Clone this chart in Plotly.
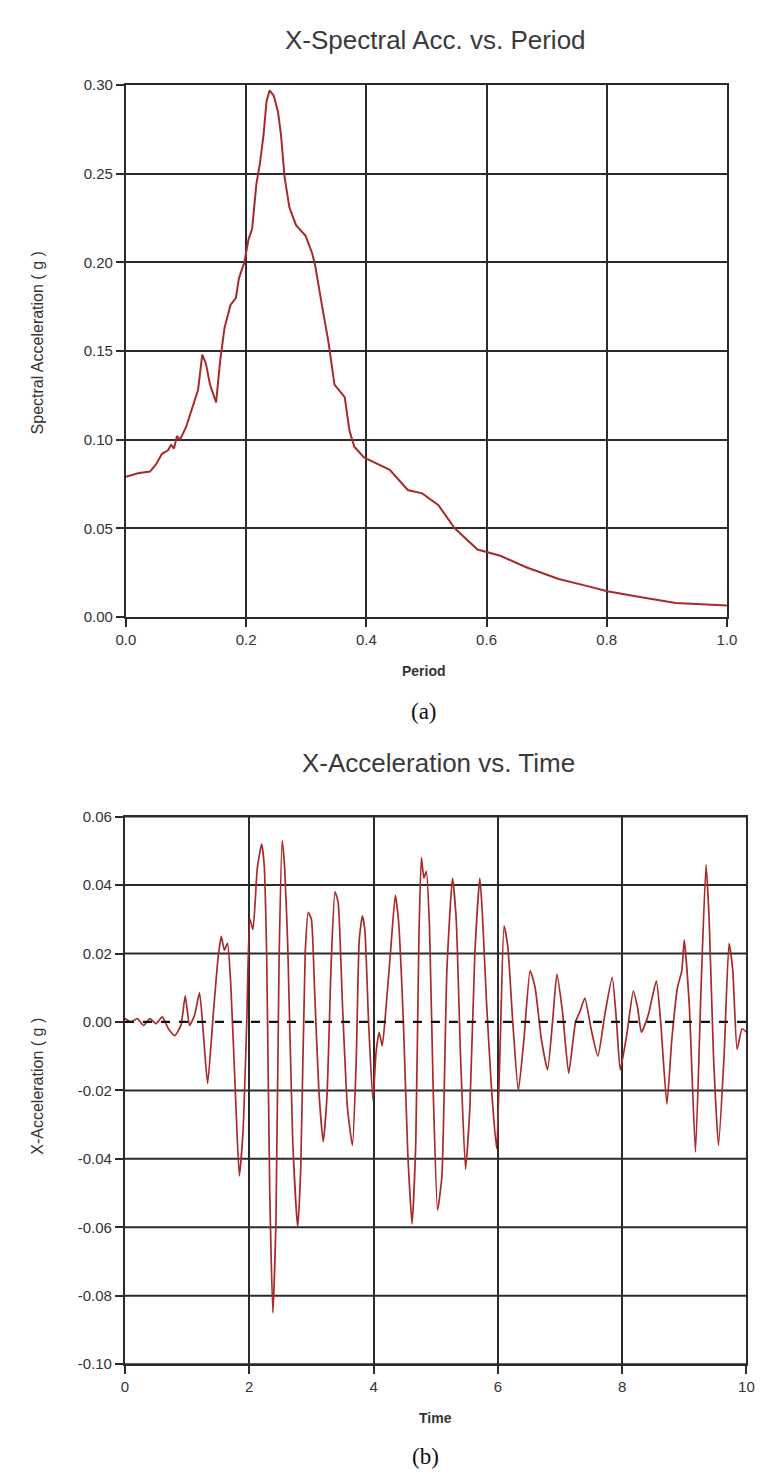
import plotly.graph_objects as go

# ---- (a) response spectrum: spectral acceleration (g) vs period (s)
period = [0.0, 0.02, 0.04, 0.05, 0.06, 0.07, 0.075, 0.08, 0.085, 0.09,
          0.1, 0.11, 0.12, 0.127, 0.133, 0.14, 0.15, 0.157, 0.164, 0.174,
          0.183, 0.188, 0.197, 0.204, 0.21, 0.217, 0.223, 0.229, 0.234, 0.239,
          0.246, 0.253, 0.258, 0.264, 0.272, 0.283, 0.299, 0.31, 0.315, 0.326,
          0.337, 0.347, 0.364, 0.372, 0.38, 0.396, 0.439, 0.469, 0.493, 0.52,
          0.547, 0.585, 0.623, 0.666, 0.72, 0.763, 0.801, 0.855, 0.915, 1.0]
spectral_acc = [0.079, 0.081, 0.082, 0.086, 0.092, 0.094, 0.097, 0.095, 0.102, 0.100,
                0.107, 0.117, 0.128, 0.148, 0.143, 0.131, 0.121, 0.145, 0.163, 0.176,
                0.180, 0.191, 0.200, 0.213, 0.219, 0.244, 0.256, 0.272, 0.291, 0.297,
                0.294, 0.285, 0.272, 0.248, 0.231, 0.221, 0.215, 0.205, 0.198, 0.176,
                0.155, 0.131, 0.124, 0.105, 0.096, 0.090, 0.083, 0.0716, 0.0697, 0.063,
                0.050, 0.038, 0.0345, 0.028, 0.0214, 0.0178, 0.0145, 0.0112, 0.0078, 0.0065]

# ---- (b) ground acceleration record (g) vs time (s)
time_s = [0.0, 0.1, 0.2, 0.3, 0.4, 0.5, 0.6, 0.7, 0.8, 0.9,
          0.97, 1.04, 1.12, 1.2, 1.26, 1.33, 1.42, 1.5, 1.55, 1.6,
          1.65, 1.7, 1.78, 1.84, 1.9, 1.96, 2.01, 2.06, 2.13, 2.2,
          2.24, 2.28, 2.33, 2.38, 2.43, 2.48, 2.53, 2.57, 2.62, 2.7,
          2.78, 2.83, 2.9, 2.95, 3.0, 3.05, 3.12, 3.19, 3.25, 3.32,
          3.38, 3.43, 3.5, 3.58, 3.66, 3.72, 3.77, 3.82, 3.86, 3.92,
          3.99, 4.04, 4.09, 4.14, 4.2, 4.28, 4.35, 4.4, 4.48, 4.55,
          4.62, 4.68, 4.73, 4.77, 4.81, 4.85, 4.9, 4.96, 5.03, 5.1,
          5.18, 5.27, 5.33, 5.4, 5.48, 5.55, 5.63, 5.71, 5.75, 5.82,
          5.9, 5.98, 6.04, 6.1, 6.16, 6.24, 6.33, 6.42, 6.52, 6.6,
          6.7, 6.8, 6.88, 6.95, 7.04, 7.14, 7.25, 7.32, 7.4, 7.5,
          7.61, 7.72, 7.84, 7.91, 7.97, 8.08, 8.18, 8.25, 8.31, 8.42,
          8.55, 8.62, 8.72, 8.8, 8.89, 8.96, 9.0, 9.08, 9.18, 9.27,
          9.35, 9.4, 9.47, 9.55, 9.64, 9.72, 9.78, 9.85, 9.93, 10.0]
accel_g = [0.001, 0.0, 0.001, -0.001, 0.001, -0.0005, 0.0015, -0.002, -0.004, -0.001,
           0.0076, -0.001, 0.002, 0.0086, -0.003, -0.018, 0.002, 0.019, 0.025, 0.021,
           0.023, 0.012, -0.022, -0.045, -0.032, 0.0, 0.030, 0.027, 0.045, 0.052,
           0.046, 0.020, -0.050, -0.085, -0.058, 0.018, 0.053, 0.045, 0.022, -0.035,
           -0.060, -0.042, 0.020, 0.032, 0.030, 0.010, -0.020, -0.035, -0.022, 0.018,
           0.038, 0.035, 0.005, -0.025, -0.036, -0.012, 0.024, 0.031, 0.027, 0.0,
           -0.023, -0.009, -0.003, -0.007, 0.004, 0.022, 0.037, 0.030, 0.0, -0.038,
           -0.059, -0.035, 0.025, 0.048, 0.042, 0.044, 0.028, -0.020, -0.055, -0.045,
           0.015, 0.042, 0.030, -0.010, -0.043, -0.025, 0.020, 0.042, 0.032, 0.005,
           -0.020, -0.037, -0.005, 0.028, 0.022, 0.0, -0.020, -0.005, 0.015, 0.010,
           -0.005, -0.014, 0.0, 0.014, 0.003, -0.015, 0.0, 0.003, 0.007, -0.002,
           -0.010, 0.002, 0.013, 0.0, -0.014, -0.003, 0.009, 0.004, -0.003, 0.002,
           0.012, 0.0, -0.024, -0.005, 0.010, 0.015, 0.024, 0.005, -0.038, 0.010,
           0.046, 0.030, -0.010, -0.036, -0.010, 0.023, 0.015, -0.008, -0.002, -0.003]

period_ticks = [0.0, 0.2, 0.4, 0.6, 0.8, 1.0]
sa_ticks = [0.0, 0.05, 0.10, 0.15, 0.20, 0.25, 0.30]
time_ticks = [0, 2, 4, 6, 8, 10]
acc_ticks = [-0.10, -0.08, -0.06, -0.04, -0.02, 0.0, 0.02, 0.04, 0.06]

W, H = 773, 1477
LINE_RED = "rgb(168,42,42)"
GRID = "#2b2b2b"
SANS = "Liberation Sans, Arial, sans-serif"
SERIF = "Liberation Serif, Times New Roman, serif"
TICK_FONT = dict(family=SANS, size=15, color="#333")


def px_x(p):
    return p / W


def px_y(p):
    return 1 - p / H


fig = go.Figure()
fig.add_trace(go.Scatter(x=period, y=spectral_acc, mode="lines",
                         line=dict(color=LINE_RED, width=2),
                         xaxis="x", yaxis="y", showlegend=False))
fig.add_trace(go.Scatter(x=time_s, y=accel_g, mode="lines",
                         line=dict(color=LINE_RED, width=1.7, shape="spline", smoothing=0.5),
                         xaxis="x2", yaxis="y2", showlegend=False))

axis_common = dict(showline=True, linecolor=GRID, linewidth=2, mirror=True, zeroline=False,
                   ticks="outside", ticklen=8, tickwidth=2, tickcolor=GRID,
                   tickfont=TICK_FONT)
grid_on = dict(showgrid=True, gridcolor=GRID, gridwidth=2)

fig.update_layout(
    width=W, height=H,
    margin=dict(l=0, r=0, t=0, b=0),
    paper_bgcolor="white", plot_bgcolor="white",
    xaxis=dict(domain=[px_x(119), px_x(736)], anchor="y", range=[0, 1],
               tickvals=period_ticks, tickformat=".1f", **grid_on, **axis_common),
    yaxis=dict(domain=[px_y(615), px_y(77)], anchor="x", range=[0, 0.30],
               tickvals=sa_ticks, tickformat=".2f", **grid_on, **axis_common),
    xaxis2=dict(domain=[px_x(118), px_x(756)], anchor="y2", range=[0, 10],
                tickvals=time_ticks, ticktext=[str(v) for v in time_ticks],
                **grid_on, **axis_common),
    # horizontal grid of the acceleration panel is drawn as shapes below,
    # so the zero level can be dashed
    yaxis2=dict(domain=[px_y(1371), px_y(817)], anchor="x2", range=[-0.10, 0.06],
                tickvals=acc_ticks, ticktext=["%.2f" % v for v in acc_ticks],
                showgrid=False, **axis_common),
)

for v in acc_ticks:
    if v == 0.0:
        continue
    fig.add_shape(type="line", xref="x2 domain", yref="y2", x0=0, x1=1, y0=v, y1=v,
                  line=dict(color=GRID, width=2), layer="below")

fig.add_shape(type="line", xref="x2 domain", yref="y2", x0=0, x1=1, y0=0, y1=0,
              line=dict(color="#111", width=2.2, dash="dash"), layer="above")


def label(text, x, y, size, family=SANS, color="#333", angle=0):
    fig.add_annotation(text=text, x=px_x(x), y=px_y(y), xref="paper", yref="paper",
                       showarrow=False, textangle=angle, xanchor="center", yanchor="middle",
                       font=dict(family=family, size=size, color=color))


label("X-Spectral Acc. vs. Period", 437, 31, 26, color="#3a3a3a")
label("Spectral Acceleration ( g )", 28, 338, 16, color="#333", angle=-90)
label("<b>Period</b>", 425, 670, 14, color="#333")
label("(a)", 425, 711, 23, family=SERIF, color="#111")

label("X-Acceleration vs. Time", 440, 763, 26, color="#3a3a3a")
label("X-Acceleration ( g )", 28, 1090, 16, color="#333", angle=-90)
label("<b>Time</b>", 437, 1425, 14, color="#333")
label("(b)", 427, 1464, 23, family=SERIF, color="#111")

# the figure fills the window exactly, so the page body keeps no margin
fig.write_html(
    "out.html",
    post_script="document.body.style.margin='0';",
)
